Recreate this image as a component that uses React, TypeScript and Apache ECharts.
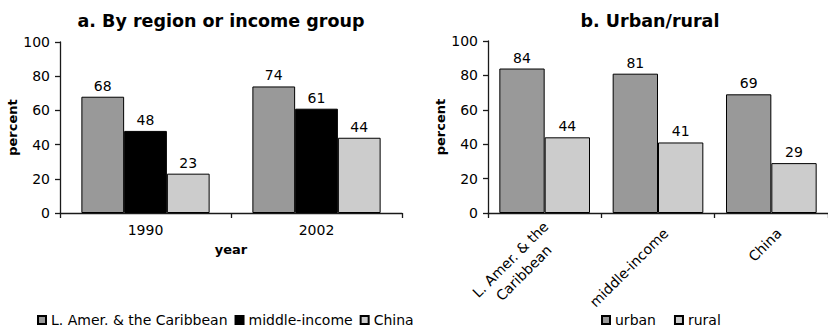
import React, { useEffect, useRef } from "react";
import * as echarts from "echarts";

// Panel a: share by region or income group, per year
const years = ["1990", "2002"];
const lacValues = [68, 74];
const middleIncomeValues = [48, 61];
const chinaValues = [23, 44];

// Panel b: urban vs rural, per group
const groups = ["L. Amer. & the\nCaribbean", "middle-income", "China"];
const urbanValues = [84, 81, 69];
const ruralValues = [44, 41, 29];

const yTicks = [0, 20, 40, 60, 80, 100];

const FONT = "DejaVu Sans";
const MID_GRAY = "#999999";
const LIGHT_GRAY = "#cccccc";
const AXIS_COLOR = "#1a1a1a";

function barLabel() {
  return {
    show: true,
    position: "top" as const,
    distance: 4,
    color: "#000",
    fontFamily: FONT,
    fontSize: 14,
  };
}

function valueAxis(gridIndex: number, nameGap: number) {
  return {
    type: "value" as const,
    gridIndex,
    min: yTicks[0],
    max: yTicks[yTicks.length - 1],
    interval: 20,
    name: "percent",
    nameLocation: "middle" as const,
    nameGap,
    nameTextStyle: { fontFamily: FONT, fontSize: 13, fontWeight: "bold" as const, color: "#000" },
    axisLine: { show: true, lineStyle: { color: AXIS_COLOR, width: 1.3 } },
    axisTick: { show: true, length: 5, lineStyle: { color: AXIS_COLOR, width: 1.3 } },
    axisLabel: { fontFamily: FONT, fontSize: 14, color: "#000", margin: 10 },
    splitLine: { show: false },
  };
}

export default function App() {
  const ref = useRef<HTMLDivElement>(null);

  useEffect(() => {
    if (!ref.current) return;
    const chart = echarts.init(ref.current, undefined, { renderer: "svg" });

    const barBorder = { borderColor: "#000", borderWidth: 1 };
    const legendText = { fontFamily: FONT, fontSize: 14, color: "#000", lineHeight: 16 };

    chart.setOption({
      animation: false,
      backgroundColor: "#fff",
      title: [
        {
          text: "a. By region or income group",
          left: 216,
          top: 7,
          textAlign: "center",
          textStyle: { fontFamily: FONT, fontSize: 17.5, fontWeight: "bold", color: "#000" },
        },
        {
          text: "b. Urban/rural",
          left: 645,
          top: 7,
          textAlign: "center",
          textStyle: { fontFamily: FONT, fontSize: 17.5, fontWeight: "bold", color: "#000" },
        },
      ],
      legend: [
        {
          data: ["L. Amer. & the Caribbean", "middle-income", "China"],
          left: 37,
          top: 312,
          padding: 0,
          icon: "rect",
          itemWidth: 8,
          itemHeight: 8,
          itemGap: 7,
          selectedMode: false,
          textStyle: legendText,
        },
        {
          data: ["urban", "rural"],
          left: 601,
          top: 312,
          padding: 0,
          icon: "rect",
          itemWidth: 8,
          itemHeight: 8,
          itemGap: 18,
          selectedMode: false,
          textStyle: legendText,
        },
      ],
      grid: [
        { left: 60, top: 42, width: 342, height: 171 },
        { left: 488, top: 41, width: 342, height: 172 },
      ],
      xAxis: [
        {
          type: "category",
          gridIndex: 0,
          data: years,
          name: "year",
          nameLocation: "middle",
          nameGap: 30,
          nameTextStyle: { fontFamily: FONT, fontSize: 13, fontWeight: "bold", color: "#000" },
          axisLine: { lineStyle: { color: AXIS_COLOR, width: 1.3 } },
          axisTick: { show: true, length: 5, lineStyle: { color: AXIS_COLOR, width: 1.3 } },
          axisLabel: { fontFamily: FONT, fontSize: 14, color: "#000", margin: 10 },
        },
        {
          type: "category",
          gridIndex: 1,
          data: groups,
          axisLine: { lineStyle: { color: AXIS_COLOR, width: 1.3 } },
          axisTick: { show: true, length: 5, lineStyle: { color: AXIS_COLOR, width: 1.3 } },
          axisLabel: {
            rotate: 45,
            margin: 10,
            interval: 0,
            padding: [22, 0, 0, 0],
            formatter: (v: string) =>
              v
                .split("\n")
                .map((line) => `{c|${line}}`)
                .join("\n"),
            rich: {
              c: { align: "center", fontFamily: FONT, fontSize: 14, color: "#000", lineHeight: 19 },
            },
          },
        },
      ],
      yAxis: [valueAxis(0, 33), valueAxis(1, 40)],
      series: [
        {
          name: "L. Amer. & the Caribbean",
          type: "bar",
          xAxisIndex: 0,
          yAxisIndex: 0,
          data: lacValues,
          barGap: "0%",
          barCategoryGap: "25%",
          itemStyle: { color: MID_GRAY, ...barBorder },
          label: barLabel(),
        },
        {
          name: "middle-income",
          type: "bar",
          xAxisIndex: 0,
          yAxisIndex: 0,
          data: middleIncomeValues,
          barGap: "0%",
          barCategoryGap: "25%",
          itemStyle: { color: "#000", ...barBorder },
          label: barLabel(),
        },
        {
          name: "China",
          type: "bar",
          xAxisIndex: 0,
          yAxisIndex: 0,
          data: chinaValues,
          barGap: "0%",
          barCategoryGap: "25%",
          itemStyle: { color: LIGHT_GRAY, ...barBorder },
          label: barLabel(),
        },
        {
          name: "urban",
          type: "bar",
          xAxisIndex: 1,
          yAxisIndex: 1,
          data: urbanValues,
          barGap: "0%",
          barCategoryGap: "20%",
          itemStyle: { color: MID_GRAY, ...barBorder },
          label: barLabel(),
        },
        {
          name: "rural",
          type: "bar",
          xAxisIndex: 1,
          yAxisIndex: 1,
          data: ruralValues,
          barGap: "0%",
          barCategoryGap: "20%",
          itemStyle: { color: LIGHT_GRAY, ...barBorder },
          label: barLabel(),
        },
      ],
    });

    return () => chart.dispose();
  }, []);

  return (
    <div
      ref={ref}
      style={{ position: "absolute", left: 0, top: 0, width: 828, height: 333, background: "#fff" }}
    />
  );
}
